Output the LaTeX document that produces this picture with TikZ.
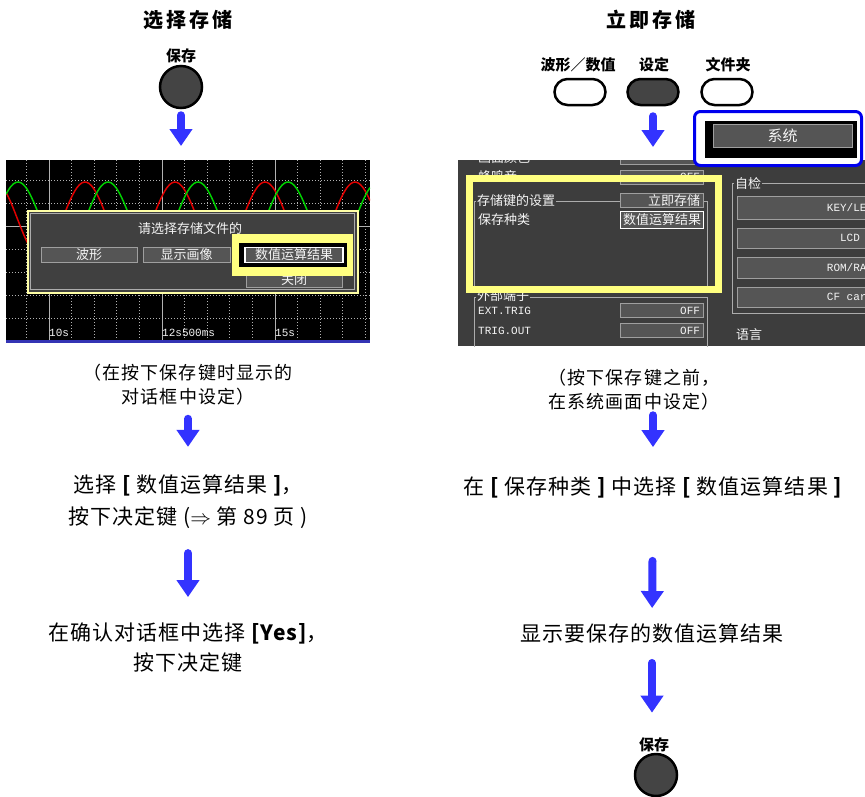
\documentclass[tikz,border=0pt]{standalone}
\usepackage{fontspec}
\setmainfont{Noto Sans CJK SC}
\newfontfamily\scrmono{Liberation Mono}
\usepackage{tikz}
\usetikzlibrary{positioning, arrows.meta}

\definecolor{arrowblue}{HTML}{3333FF}
\definecolor{keygray}{HTML}{444444}
\definecolor{scrbg}{HTML}{3D3D3D}
\definecolor{dlggray}{HTML}{404040}
\definecolor{btngray}{HTML}{555555}
\definecolor{hiyellow}{HTML}{FFFF80}
\definecolor{selblue}{HTML}{0000EE}
\definecolor{scrline}{HTML}{3434B4}
\definecolor{wavered}{HTML}{E00000}
\definecolor{wavegreen}{HTML}{00D000}

\tikzset{
  flow/.style={draw=arrowblue, line width=8pt, line cap=round, -{Triangle[width=22pt,length=17pt]}},
  titletxt/.style={inner sep=0pt, font=\fontsize{20}{24}\selectfont\bfseries\addfontfeature{LetterSpace=15}},
  keylab/.style={inner sep=0pt, font=\fontsize{15}{18}\selectfont\bfseries},
  savekey/.style={circle, draw=black, line width=2.5pt, fill=keygray, minimum size=42pt, inner sep=0pt},
  ovalkey/.style={rounded corners=13pt, draw=black, line width=2.5pt, fill=white, minimum width=51pt, minimum height=26pt, inner sep=0pt},
  notetxt/.style={inner sep=0pt, align=center, font=\fontsize{18}{24}\selectfont\addfontfeature{LetterSpace=6}},
  steptxt/.style={inner sep=0pt, align=center, font=\fontsize{21}{32}\selectfont\addfontfeature{LetterSpace=5}},
  scrtxt/.style={inner sep=0pt, text=gray!8, font=\fontsize{13}{15}\selectfont},
  monotxt/.style={inner sep=0pt, text=gray!8, font=\scrmono\fontsize{11}{12}\selectfont},
  scrbtn/.style={fill=btngray, draw=gray!75, line width=0.8pt, inner sep=0pt, text=gray!8, font=\fontsize{13}{15}\selectfont},
  dlgbtn/.style={scrbtn, minimum height=15pt},
  valbox/.style={scrbtn, text width=77pt, inner xsep=3pt, align=right, minimum height=14pt},
  monobox/.style={valbox, font=\scrmono\fontsize{11}{12}\selectfont},
  selfbtn/.style={scrbtn, minimum width=226pt, font=\scrmono\fontsize{11}{12}\selectfont},
  grpline/.style={draw=gray!65, line width=0.8pt},
  gridsolid/.style={draw=gray!60, line width=1pt},
  griddot/.style={draw=gray!60, line width=1pt, dash pattern=on 1pt off 2pt},
}

\begin{document}
\begin{tikzpicture}[x=1pt, y=-1pt]
\useasboundingbox (0,0) rectangle (865,796);

% left: 选择存储
\node[titletxt] (ltitle) at (188,20) {选择存储};
\node[keylab] (lkeylab) at (181,56) {保存};
\node[savekey] (lkey) at (181,87) {};

\node[fill=black, inner sep=0pt, minimum width=364pt, minimum height=183pt, anchor=north west] (lscreen) at (6,160) {};
\begin{scope}
  \clip (6,160) rectangle (370,343);
  \foreach \k in {-1,1,2,3,4,6,7,8,9,11,12,13,14}
    \draw[griddot] ({49+22.6*\k},160) -- ++(0,180);
  \foreach \k in {-2,-1,1,2,3,4}
    \draw[griddot] (6,{226+23*\k}) -- ++(364,0);
  \foreach \gx in {49,162,275}
    \draw[gridsolid] (\gx,160) -- ++(0,180);
  \draw[gridsolid] (6,226) -- ++(364,0);
  \draw[wavered, line width=1.5pt] plot[domain=6:370, samples=150, smooth] (\x,{219-37*cos(4*(\x-85))});
  \draw[wavegreen, line width=1.5pt] plot[domain=6:370, samples=150, smooth] (\x,{219-37*cos(4*(\x-18))});
\end{scope}

\node[fill=dlggray, draw=hiyellow!70, line width=1.5pt, inner sep=0pt, minimum width=330pt, minimum height=82pt, anchor=north west] (ldlg) at (27,210) {};
\draw[gray!65, line width=0.8pt] (30,213) rectangle (354,289);
\node[scrtxt] (ldlgtitle) at (190,229) {请选择存储文件的};
\node[dlgbtn, minimum width=96pt] (lwave) at (89,254.5) {波形};
\node[dlgbtn, minimum width=87pt] (limage) at (186.5,254.5) {显示画像};
\node[dlgbtn, minimum width=96pt] (lclose) at (294,280) {关闭};
\node[fill=hiyellow, inner sep=0pt, minimum width=121pt, minimum height=42pt] (lmark) at (292.5,255) {};
\node[fill=black, inner sep=0pt, minimum width=108pt, minimum height=24pt] (lmarkin) at (293,255) {};
\node[dlgbtn, draw=white, line width=1.2pt, minimum width=98pt] (lnum) at (294,255) {数值运算结果};

\node[monotxt, anchor=west] (lt1) at (49,333) {10s};
\node[monotxt, anchor=west] (lt2) at (162,333) {12s500ms};
\node[monotxt, anchor=west] (lt3) at (275,333) {15s};
\draw[scrline, line width=3pt] (6,341.5) -- (370,341.5);

\node[notetxt] (lnote) at (188,385) {（在按下保存键时显示的\\对话框中设定）};
\node[steptxt] (lstep1) at (188,502) {选择 {\bfseries [} 数值运算结果 {\bfseries ]}，\\按下决定键 ($\Rightarrow$ 第 89 页 )};
\node[steptxt, font=\fontsize{21}{30}\selectfont\addfontfeature{LetterSpace=5}] (lstep2) at (188,648) {在确认对话框中选择 {\bfseries [Yes]}，\\按下决定键};

\draw[flow, shorten <=6pt, shorten >=14pt] (lkey.south) -- (lkey.south |- lscreen.north);
\draw[flow, shorten <=13pt, shorten >=28pt] (lnote.south) -- (lstep1.north);
\draw[flow, shorten <=24pt, shorten >=26pt] (lstep1.south) -- (lstep2.north);

% right: 立即存储
\node[titletxt] (rtitle) at (651,20) {立即存储};
\node[keylab] (rwavelab) at (578,65) {波形／数值};
\node[keylab] (rsetlab) at (654,65) {设定};
\node[keylab] (rfolderlab) at (728,65) {文件夹};
\node[ovalkey] (rwave) at (580,92) {};
\node[ovalkey, fill=keygray] (rset) at (653,92) {};
\node[ovalkey] (rfolder) at (727,92) {};

\node[fill=scrbg, inner sep=0pt, minimum width=407pt, minimum height=186pt, anchor=north west] (rscreen) at (458,160) {};
\begin{scope}
  \clip (458,160) rectangle (865,346);
  \node[scrtxt, anchor=west] (rcolor) at (478,157.5) {画面颜色};
  \node[valbox] (rcolorv) at (661.5,157) {};
  \node[scrtxt, anchor=west] (rbeep) at (478,177) {蜂鸣音};
  \node[monobox] (rbeepv) at (661.5,177) {OFF};
  \draw[grpline] (474,201) rectangle (707,292);
  \node[scrtxt, anchor=west, fill=scrbg, inner xsep=1pt] (rkeyset) at (476,201) {存储键的设置};
  \node[valbox] (rkeysetv) at (661.5,200.5) {立即存储};
  \node[scrtxt, anchor=west] (rkind) at (478,220) {保存种类};
  \node[valbox, draw=white, line width=1pt, minimum height=17pt] (rkindv) at (661.5,219.5) {数值运算结果};
  \draw[grpline] (474,297) rectangle (707,352);
  \node[scrtxt, anchor=west, fill=scrbg, inner xsep=1pt] (rext) at (476,296) {外部端子};
  \node[monotxt, anchor=west] (rtrigin) at (478,311) {EXT.TRIG};
  \node[monobox] (rtriginv) at (661.5,310.5) {OFF};
  \node[monotxt, anchor=west] (rtrigout) at (478,331) {TRIG.OUT};
  \node[monobox] (rtrigoutv) at (661.5,330.5) {OFF};
  \draw[grpline] (732,183) rectangle (880,313);
  \node[scrtxt, anchor=west, fill=scrbg, inner xsep=1pt] (rself) at (734,184) {自检};
  \node[selfbtn, minimum height=23pt] (rkeyled) at (850,207.5) {KEY/LED};
  \node[selfbtn, minimum height=20pt] (rlcd) at (850,238) {LCD};
  \node[selfbtn, minimum height=21pt] (rrom) at (850,267.5) {ROM/RAM};
  \node[selfbtn, minimum height=20pt] (rcf) at (850,297) {CF card};
  \node[scrtxt, anchor=west] (rlang) at (736,335) {语言};
\end{scope}
\draw[hiyellow, line width=7pt] (469,178.5) rectangle (718,289);

\node[draw=selblue, line width=3pt, rounded corners=6pt, fill=white, inner sep=0pt, minimum width=167pt, minimum height=54pt] (rsysbox) at (778,138.5) {};
\fill[black] (705,121) rectangle (857,158);
\node[scrbtn, minimum width=139pt, minimum height=23pt, font=\fontsize{15}{17}\selectfont] (rsys) at (782.5,135.5) {系统};

\node[notetxt] (rnote) at (634,389.5) {（按下保存键之前，\\在系统画面中设定）};
\node[steptxt] (rstep1) at (653,487) {在 {\bfseries [} 保存种类 {\bfseries ]} 中选择 {\bfseries [} 数值运算结果 {\bfseries ]}};
\node[steptxt] (rresult) at (652,633) {显示要保存的数值运算结果};
\node[keylab] (rkeylab) at (654,745) {保存};
\node[savekey] (rkey) at (656,775) {};

\draw[flow, shorten <=10pt, shorten >=13pt] (rset.south) -- (rset.south |- rscreen.north);
\draw[flow, shorten <=5pt, shorten >=29pt] (rstep1.north |- rnote.south) -- (rstep1.north);
\draw[flow, shorten <=63pt, shorten >=15pt] (rstep1.south) -- (rresult.north);
\draw[flow, shorten <=20pt, shorten >=25pt] (rresult.south) -- (rresult.south |- rkeylab.north);
\end{tikzpicture}
\end{document}
